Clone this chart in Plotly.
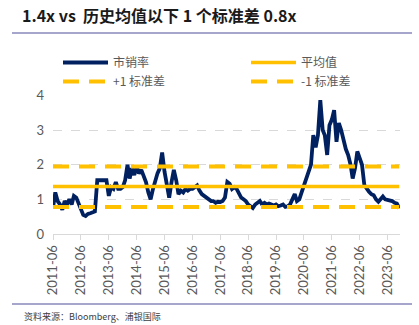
import pandas as pd
import plotly.graph_objects as go

# Monthly price-to-sales ratio, 2011-06 .. 2023-11
dates = pd.date_range("2011-06-01", periods=150, freq="MS")
ps_ratio = [
    0.75, 1.2, 0.95, 0.85, 0.7, 0.95, 0.85,                              # 2011
    1.0, 0.85, 1.1, 1.05, 0.9, 0.75, 0.55, 0.52, 0.58, 0.6, 0.62, 0.65,  # 2012
    1.55, 1.55, 1.55, 1.55, 1.55, 1.1, 1.35, 1.3, 1.5, 1.3, 1.3, 1.35,   # 2013
    1.55, 2.0, 1.6, 1.9, 1.7, 1.95, 1.75, 1.85, 1.7, 1.5, 1.2, 1.0,      # 2014
    1.3, 1.6, 1.75, 1.9, 2.35, 1.8, 1.45, 1.05, 1.5, 1.85, 1.55, 1.15,   # 2015
    1.25, 1.2, 1.3, 1.25, 1.3, 1.3, 1.35, 1.4, 1.25, 1.15, 1.1, 1.05,    # 2016
    1.0, 0.95, 0.95, 0.9, 0.93, 0.92, 0.95, 1.05, 1.5, 1.45, 1.3, 1.35,  # 2017
    1.3, 1.15, 1.05, 1.0, 0.95, 0.85, 0.8, 0.75, 0.85, 0.9, 0.95, 0.85,  # 2018
    0.9, 0.85, 0.88, 0.85, 0.82, 0.85, 0.8, 0.82, 0.85, 0.78, 0.8, 0.85, # 2019
    1.0, 1.15, 0.95, 1.0, 1.2, 1.4, 1.6, 1.8, 2.0, 2.85, 2.5, 2.85,      # 2020
    3.86, 3.0, 2.85, 2.28, 3.14, 3.3, 3.57, 2.66, 3.2, 3.0, 2.66, 2.45,  # 2021
    2.28, 2.0, 1.6, 1.9, 2.38, 2.2, 2.0, 1.41, 1.3, 1.22, 1.15, 1.12,    # 2022
    1.0, 0.93, 1.0, 1.08, 1.0, 0.98, 0.98, 0.95, 0.9, 0.88, 0.74,        # 2023
]
mean_val = 1.37
plus_1sd = 1.95
minus_1sd = 0.78

tick_labels = [f"{y}-06" for y in range(2011, 2024)]
tick_vals = [f"{y}-06-01" for y in range(2011, 2024)]

series_names = ["市销率", "平均值", "+1 标准差", "-1 标准差"]

NAVY = "#002060"
GOLD = "#FFC000"
GRAY_TXT = "#595959"
CJK = "Noto Sans CJK SC"

x_span = [dates[0], dates[-1]]

fig = go.Figure()
fig.add_trace(go.Scatter(x=dates, y=ps_ratio, mode="lines", name=series_names[0],
                         line=dict(color=NAVY, width=3.8), legend="legend"))
fig.add_trace(go.Scatter(x=x_span, y=[mean_val] * 2, mode="lines", name=series_names[1],
                         line=dict(color=GOLD, width=3.5), legend="legend2"))
fig.add_trace(go.Scatter(x=x_span, y=[plus_1sd] * 2, mode="lines", name=series_names[2],
                         line=dict(color=GOLD, width=4, dash="16px,10px"), legend="legend"))
fig.add_trace(go.Scatter(x=x_span, y=[minus_1sd] * 2, mode="lines", name=series_names[3],
                         line=dict(color=GOLD, width=4, dash="16px,10px"), legend="legend2"))

L, R, T, B = 53, 19, 95, 91
W, H = 419, 325
pw, ph = W - L - R, H - T - B

def px(x):
    return (x - L) / pw

def py(y):
    return (H - B - y) / ph

legend_common = dict(orientation="v", yanchor="top", xanchor="left",
                     font=dict(family=CJK, size=12, color=GRAY_TXT),
                     itemwidth=45, bgcolor="rgba(0,0,0,0)", tracegroupgap=0)

fig.update_layout(
    width=W, height=H,
    margin=dict(l=L, r=R, t=T, b=B),
    paper_bgcolor="white", plot_bgcolor="white",
    showlegend=True,
    legend=dict(x=px(58), y=py(48), **legend_common),
    legend2=dict(x=px(246), y=py(48), **legend_common),
    xaxis=dict(
        type="date", range=[dates[0], dates[-1] + pd.Timedelta(days=10)],
        tickvals=tick_vals, ticktext=tick_labels, tickangle=-90,
        tickfont=dict(family="Lato", size=13, color=GRAY_TXT),
        showgrid=False, showline=True, linecolor="#D9D9D9", linewidth=1,
        ticks="outside", ticklen=5, tickcolor="#D9D9D9",
    ),
    yaxis=dict(
        range=[0, 4.01], tickvals=[0, 1, 2, 3, 4],
        tickfont=dict(family="Lato", size=13, color=GRAY_TXT),
        showgrid=True, gridcolor="#D9D9D9", griddash="dash", gridwidth=1,
        zeroline=False, showline=False, ticks="", ticklabelstandoff=8,
    ),
    font=dict(family=CJK),
    shapes=[
        dict(type="line", xref="paper", yref="paper", x0=px(12), x1=px(412),
             y0=py(33), y1=py(33), line=dict(color="#A6A6CC", width=2)),
        dict(type="line", xref="paper", yref="paper", x0=px(12), x1=px(412),
             y0=py(304), y1=py(304), line=dict(color="#A6A6CC", width=2)),
    ],
    annotations=[
        dict(text="<b>1.4x vs  历史均值以下 1 个标准差 0.8x</b>", xref="paper", yref="paper",
             x=px(20), y=py(15), xanchor="left", yanchor="middle", showarrow=False,
             font=dict(family=CJK, size=16, color="#1a1a1a")),
        dict(text="资料来源：Bloomberg、浦银国际", xref="paper", yref="paper",
             x=px(22), y=py(316), xanchor="left", yanchor="middle", showarrow=False,
             font=dict(family=CJK, size=9, color="#404040")),
    ],
)

fig.write_html("out.html")
